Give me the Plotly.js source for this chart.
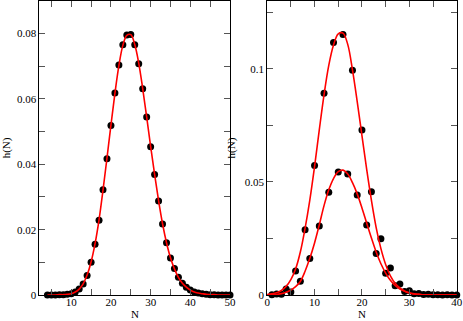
<!DOCTYPE html>
<html>
<head>
<meta charset="utf-8">
<script src="https://cdn.plot.ly/plotly-3.0.1.min.js"></script>
<style>
  body { margin: 0; padding: 0; background: #fff; }
  #myDiv { width: 463px; height: 321px; }
</style>
</head>
<body>
<div id="myDiv"></div>
<script>
// left panel: one distribution, points and fitted curve
var leftN = [4, 5, 6, 7, 8, 9, 10, 11, 12, 13, 14, 15, 16, 17, 18, 19, 20, 21, 22, 23, 24, 25, 26, 27,
             28, 29, 30, 31, 32, 33, 34, 35, 36, 37, 38, 39, 40, 41, 42, 43, 44, 45, 46, 47, 48, 49, 50];
var leftH = [0, 0, 0, 0.0001, 0.0001, 0.0002, 0.0004, 0.0009, 0.0018, 0.0034, 0.006, 0.0100, 0.0155,
             0.0229, 0.0322, 0.0417, 0.0519, 0.0618, 0.0704, 0.0766, 0.0796, 0.0797, 0.0766, 0.0708,
             0.0631, 0.0545, 0.0454, 0.0369, 0.0288, 0.0217, 0.016, 0.0113, 0.0081, 0.0054, 0.0036,
             0.0024, 0.0015, 0.0009, 0.0006, 0.0004, 0.0002, 0.0001, 0.0001, 0, 0, 0, 0];
var leftFitH = [0, 0, 0, 0.0001, 0.0001, 0.0002, 0.0004, 0.0009, 0.0018, 0.0034, 0.0061, 0.0101, 0.0157,
                0.0230, 0.0321, 0.0419, 0.0520, 0.0617, 0.0702, 0.0764, 0.0795, 0.0797, 0.0767, 0.0710,
                0.0632, 0.0545, 0.0455, 0.0369, 0.0289, 0.0218, 0.0160, 0.0114, 0.0080, 0.0054, 0.0036,
                0.0024, 0.0015, 0.0009, 0.0006, 0.0004, 0.0002, 0.0001, 0.0001, 0, 0, 0, 0];

// right panel: two distributions
var tallN = [2, 4, 6, 8, 10, 12, 14, 16, 18, 20, 22, 24, 26, 28, 30, 32, 34, 36, 38, 40];
var tallH = [0.0004, 0.0027, 0.0106, 0.0288, 0.0572, 0.0892, 0.1116, 0.1152, 0.0994, 0.0729,
             0.0457, 0.0249, 0.0119, 0.0049, 0.0019, 0.0007, 0.0003, 0.0001, 0.0001, 0];
var shortN = [1, 3, 5, 7, 9, 11, 13, 15, 17, 19, 21, 23, 25, 27, 29, 31, 33, 35, 37, 39];
var shortH = [0.0001, 0.0003, 0.0013, 0.0061, 0.0161, 0.0305, 0.0454, 0.0544, 0.0535, 0.0442,
              0.031, 0.0184, 0.0096, 0.0041, 0.0015, 0.0006, 0.0002, 0.0001, 0, 0];

var fitN = [0, 1, 2, 3, 4, 5, 6, 7, 8, 9, 10, 11, 12, 13, 14, 15, 16, 17, 18, 19, 20,
            21, 22, 23, 24, 25, 26, 27, 28, 29, 30, 31, 32, 33, 34, 35, 36, 37, 38, 39, 40];
var tallFitH = [0.0002, 0.0005, 0.001, 0.002, 0.0038, 0.0068, 0.0115, 0.019, 0.0295, 0.042, 0.0568,
                0.073, 0.0885, 0.1015, 0.1105, 0.1155, 0.1158, 0.1108, 0.0995, 0.0855, 0.0705,
                0.0555, 0.0418, 0.0298, 0.0205, 0.0135, 0.0085, 0.0052, 0.0031, 0.0018, 0.001,
                0.0005, 0.0003, 0.0001, 0.0001, 0, 0, 0, 0, 0, 0];
var shortFitH = [0.0001, 0.0001, 0.0002, 0.0006, 0.0012, 0.0022, 0.0037, 0.006, 0.0105, 0.0162, 0.023,
                 0.031, 0.0395, 0.0465, 0.0515, 0.0545, 0.0552, 0.0535, 0.0497, 0.0447, 0.0385,
                 0.0318, 0.0252, 0.019, 0.0138, 0.0097, 0.0065, 0.0042, 0.0026, 0.0016, 0.0009,
                 0.0005, 0.0003, 0.0001, 0, 0, 0, 0, 0, 0, 0];

var dots = {color: '#000', size: 7};
var red = {color: '#ff0000', width: 1.6, shape: 'spline'};

var data = [
  {x: leftN, y: leftH, mode: 'markers', marker: dots, cliponaxis: false, xaxis: 'x', yaxis: 'y'},
  {x: leftN, y: leftFitH, mode: 'lines', line: red, xaxis: 'x', yaxis: 'y'},
  {x: tallN, y: tallH, mode: 'markers', marker: dots, cliponaxis: false, xaxis: 'x2', yaxis: 'y2'},
  {x: shortN, y: shortH, mode: 'markers', marker: dots, cliponaxis: false, xaxis: 'x2', yaxis: 'y2'},
  {x: fitN, y: tallFitH, mode: 'lines', line: red, xaxis: 'x2', yaxis: 'y2'},
  {x: fitN, y: shortFitH, mode: 'lines', line: red, xaxis: 'x2', yaxis: 'y2'}
];

var tickFont = {family: 'Liberation Serif, Times New Roman, serif', size: 11, color: '#000'};

function ax(opts) {
  var a = {
    showgrid: false, zeroline: false, showline: true, linecolor: '#000', linewidth: 1,
    mirror: 'ticks', ticks: 'inside', ticklen: 6, tickwidth: 1, tickcolor: '#555',
    tickfont: tickFont, fixedrange: true
  };
  for (var k in opts) a[k] = opts[k];
  return a;
}

function minor(step) {
  return {ticks: 'inside', ticklen: 6, tickwidth: 1, tickcolor: '#555', dtick: step};
}

var layout = {
  width: 463, height: 321,
  margin: {l: 0, r: 0, t: 0, b: 0},
  showlegend: false,
  paper_bgcolor: '#fff', plot_bgcolor: '#fff',
  xaxis: ax({domain: [0.0853, 0.4968], range: [2, 50], dtick: 10, tick0: 0, anchor: 'y',
             minor: minor(5), ticklabelstandoff: -3}),
  yaxis: ax({domain: [0.081, 0.997], range: [0, 0.09], dtick: 0.02, anchor: 'x',
             minor: minor(0.01),
             title: {text: 'h(N)', font: tickFont, standoff: 6}}),
  xaxis2: ax({domain: [0.577, 0.9865], range: [0, 40], dtick: 10, tick0: 0, anchor: 'y2',
              minor: minor(5), ticklabelstandoff: -3}),
  yaxis2: ax({domain: [0.081, 0.997], range: [0, 0.13], dtick: 0.05, anchor: 'x2',
              minor: minor(0.025),
              title: {text: 'h(N)', font: tickFont, standoff: 6}}),
  annotations: [
    {text: 'N', font: tickFont, showarrow: false, xref: 'x domain', yref: 'paper',
     x: 0.5, y: 0, yanchor: 'bottom', borderpad: 0},
    {text: 'N', font: tickFont, showarrow: false, xref: 'x2 domain', yref: 'paper',
     x: 0.5, y: 0, yanchor: 'bottom', borderpad: 0}
  ]
};

Plotly.newPlot('myDiv', data, layout, {staticPlot: true});
</script>
</body>
</html>
